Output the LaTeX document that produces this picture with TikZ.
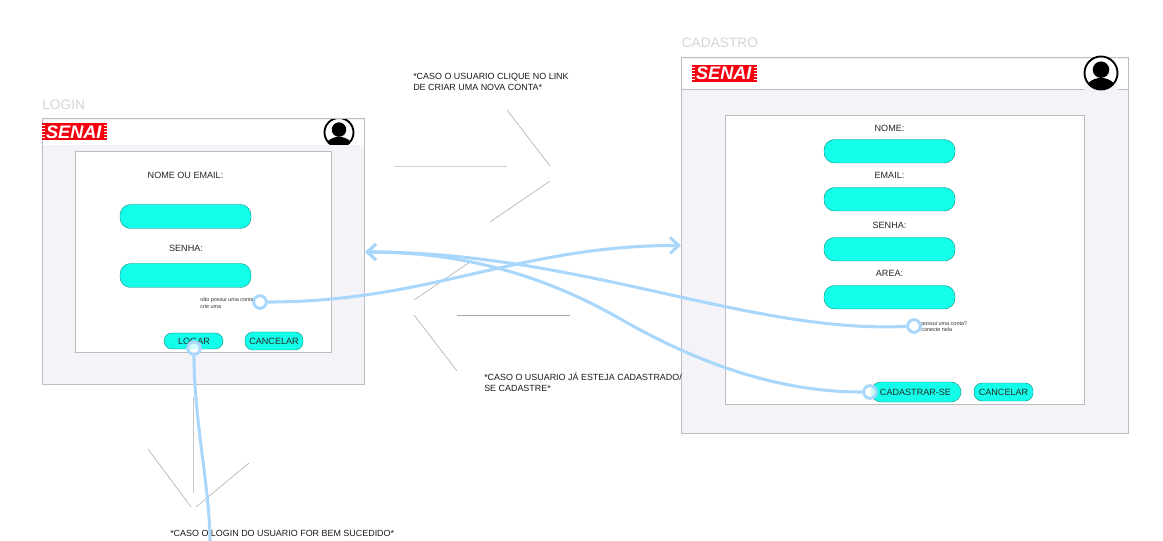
\documentclass[tikz,border=0pt]{standalone}
\usepackage{fontspec}
\setmainfont{Liberation Sans}
\usetikzlibrary{positioning,arrows.meta}
\definecolor{framefill}{HTML}{F3F3F8}
\definecolor{framegray}{HTML}{BDBDC0}
\definecolor{fieldcyan}{HTML}{14FFEA}
\definecolor{flowblue}{HTML}{A9D7FC}
\definecolor{senaired}{HTML}{F5000F}
\tikzset{
  screen/.style={draw=framegray,fill=framefill,line width=0.75pt},
  panel/.style={draw=framegray,fill=white,line width=0.75pt},
  field/.style={draw=black!45!fieldcyan,fill=fieldcyan,line width=0.3pt,rounded corners=8pt},
  btnbox/.style={draw=black!45!fieldcyan,fill=fieldcyan,line width=0.3pt,rounded corners=6pt,inner sep=0pt,font=\fontsize{6.9}{8}\selectfont},
  lbl/.style={inner sep=0pt,font=\fontsize{6.8}{8}\selectfont,text=black!85},
  tiny/.style={inner sep=0pt,font=\fontsize{4.1}{5}\selectfont,text=black!80,align=left,anchor=west},
  note/.style={inner sep=0pt,font=\fontsize{6.7}{8.3}\selectfont,text=black!90,align=left,anchor=north west},
  title/.style={inner sep=0pt,font=\fontsize{10.3}{12}\selectfont,text=black!17,anchor=west},
  hook/.style={circle,draw=flowblue,fill=white,fill opacity=0.8,line width=2.2pt,minimum size=9.5pt,inner sep=0pt},
  flow/.style={draw=flowblue,line width=2.3pt},
  arrowflow/.style={flow,-{Straight Barb[length=6.5pt,width=12pt,line width=2.3pt]}},
  thin/.style={draw=black!35,line width=0.4pt},
}
% logo and avatar
\newcommand{\senailogo}[2]{%
  \fill[senaired] (#1,#2) rectangle ++(65.5,17);
  \foreach \k in {2,5,8,11,14}{
    \draw[white,line width=0.15pt] (#1,#2+\k) -- ++(3,0);
    \draw[white,line width=0.15pt] (#1+62.5,#2+\k) -- ++(3,0);
  }
  \node[inner sep=0pt,text=white] at (#1+32.3,#2+8.5) {\fontsize{13.6}{12}\selectfont\bfseries\itshape SENAI};
}
\newcommand{\avatar}[3]{%
  \begin{scope}
    \clip (#1,#2) circle (#3);
    \fill[white] (#1,#2) circle (#3);
    \fill[black] (#1,#2+#3*1.25) ellipse (#3*1.05 and #3*0.95);
    \fill[black] (#1,#2-#3*0.2) circle (#3*0.5);
  \end{scope}
  \draw[black,line width=1.4pt] (#1,#2) circle (#3);
}
\begin{document}
\begin{tikzpicture}[x=0.75pt,y=0.75pt,yscale=-1,xscale=1]
\useasboundingbox (0,0) rectangle (1163,541);

%login screen
\node[title] (logintitle) at (42,105) {LOGIN};
\draw[screen] (42,119) rectangle (364,384);
\fill[white] (43,120) rectangle (363.5,145);
\senailogo{41.5}{123.5}
\begin{scope}
  \clip (320,119.5) rectangle (358,145);
  \avatar{339}{132.5}{14.5}
\end{scope}
\draw[panel] (75,151.5) rectangle (331,352.5);
\node[lbl] (loginname) at (185.5,175) {NOME OU EMAIL:};
\draw[field] (120,204.5) rectangle (251,228.5);
\node[lbl] (loginpass) at (186,248.5) {SENHA:};
\draw[field] (120,263.5) rectangle (251,287.5);
\node[tiny] (loginlink) at (200,303) {não possui uma conta\\crie uma};
\draw[btnbox] (164,333) rectangle (223,349);
\node[lbl] (logar) at (194,341) {LOGAR};
\draw[btnbox] (245,332) rectangle (303,350);
\node[lbl] (logincancel) at (274,341) {CANCELAR};

%cadastro screen
\node[title] (cadtitle) at (681.5,43) {CADASTRO};
\draw[screen] (681.5,58) rectangle (1128,433);
\fill[white] (682,59) rectangle (1127.5,90);
\draw[framegray,line width=0.75pt] (681.5,90) -- (1128,90);
\senailogo{691.5}{65}
\fill[framefill] (1084,85) rectangle (1118,90.5);
\avatar{1101}{73}{16.5}
\draw[panel] (725,115.5) rectangle (1084,404);
\node[lbl] (cadname) at (889.5,128.5) {NOME:};
\draw[field] (824,139.5) rectangle (955,163);
\node[lbl] (cademail) at (889.5,175) {EMAIL:};
\draw[field] (824,187.5) rectangle (955,211);
\node[lbl] (cadpass) at (889.5,225) {SENHA:};
\draw[field] (824,237.5) rectangle (955,261);
\node[lbl] (cadarea) at (889.5,273.5) {AREA:};
\draw[field] (824,285.5) rectangle (955,309);
\node[tiny] (cadlink) at (921,326.5) {possui uma conta?\\conecte nela};
\draw[btnbox,rounded corners=7.5pt] (871,382) rectangle (961,402);
\node[lbl] (cadastrar) at (915.5,392) {CADASTRAR-SE};
\draw[btnbox] (974,383) rectangle (1033,401);
\node[lbl] (cadcancel) at (1003.5,392) {CANCELAR};

%thin chevrons
\draw[thin,draw=black!18] (394,166.5) -- (507,166.5);
\draw[thin] (507,110) -- (550,166);
\draw[thin] (550,181) -- (490,222);
\draw[thin] (457,315.5) -- (570,315.5);
\draw[thin] (470,262) -- (414,300);
\draw[thin] (414,315) -- (457,371);
\draw[draw=black!22,line width=0.6pt] (193,397) -- (193,493);
\draw[thin] (148,449) -- (191,507);
\draw[thin] (196,507) -- (249,463);

%notes
\node[note] (note1) at (413,72.5) {*CASO O USUARIO CLIQUE NO LINK\\DE CRIAR UMA NOVA CONTA*};
\node[note] (note2) at (484,372) {*CASO O USUARIO JÁ ESTEJA CADASTRADO/\\SE CADASTRE*};
\node[note,anchor=west] (note3) at (170,533) {*CASO O LOGIN DO USUARIO FOR BEM SUCEDIDO*};

%flows
\coordinate (cadedge) at (681,245.5);
\coordinate (loginedge) at (365,252);
\coordinate (loginend) at (210,541);
\coordinate (cadbend) at (617,317);
\node[hook] (hooka) at (260,302) {};
\node[hook] (hookb) at (914,326) {};
\node[hook] (hookc) at (870,392) {};
\node[hook] (hookd) at (194,348) {};
\draw[arrowflow] (hooka) .. controls (430,302) and (520,245) .. (cadedge);
\draw[arrowflow] (hookb) .. controls (750,334) and (580,252) .. (loginedge);
\draw[arrowflow] (hookc) .. controls (780,392) and (700,365) .. (cadbend) .. controls (560,285) and (480,252) .. (loginedge);
\draw[flow] (hookd) .. controls (194,420) and (210,490) .. (loginend);
\end{tikzpicture}
\end{document}
